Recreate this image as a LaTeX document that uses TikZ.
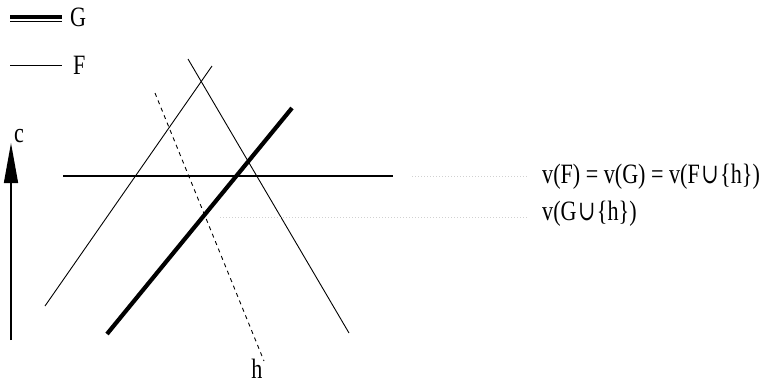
\documentclass[tikz,border=0pt]{standalone}
\usepackage{fontspec}
\setmainfont{Liberation Serif}[FakeStretch=0.79]
\newfontfamily\symfont{DejaVu Serif}[FakeStretch=0.74]
\usetikzlibrary{arrows.meta}
\newcommand{\cupsym}{\hspace{1.5pt}{\symfont ∪}\hspace{1.5pt}}
\begin{document}
\begin{tikzpicture}[x=1pt,y=-1pt,
  thinline/.style={line width=0.9pt,black},
  dotline/.style={line width=0.8pt,black!18,dash pattern=on 1pt off 2pt},
  lbl/.style={inner sep=0pt,font=\fontsize{28}{31}\selectfont}]
\useasboundingbox (0,0) rectangle (764,383);
% legend
\coordinate (g1) at (10,17); \coordinate (g2) at (62,17);
\coordinate (g3) at (10,21.5); \coordinate (g4) at (62,21.5);
\draw[line width=3.4pt] (g1) -- (g2);
\draw[line width=1pt] (g3) -- (g4);
\node[lbl,anchor=base west] (G) at (70,26) {G};
\coordinate (f1) at (10,65); \coordinate (f2) at (62,65);
\draw[thinline] (f1) -- (f2);
\node[lbl,anchor=base west] (F) at (73,74) {F};
% cost arrow
\coordinate (c0) at (11,340); \coordinate (c1) at (11,143);
\draw[line width=1.5pt,-{Triangle[length=40pt,width=14pt]}] (c0) -- (c1);
\node[lbl,anchor=base] (c) at (19,142) {c};
% lines
\coordinate (a1) at (45,306); \coordinate (a2) at (212,66);
\coordinate (b1) at (188,59); \coordinate (b2) at (349,333);
\coordinate (hz1) at (63,176); \coordinate (hz2) at (393,176);
\coordinate (t1) at (107,334); \coordinate (t2) at (292,108);
\coordinate (h1) at (155,93); \coordinate (h2) at (264,361);
\draw[thinline] (a1) -- (a2);
\draw[thinline] (b1) -- (b2);
\draw[line width=1.1pt] (hz1) -- (hz2);
\draw[line width=4.2pt] (t1) -- (t2);
\draw[thinline,dash pattern=on 4pt off 4pt] (h1) -- (h2);
\node[lbl,anchor=base] (h) at (257,378) {h};
% dotted leaders and labels
\node[lbl,anchor=base west] (v1) at (542,183) {v(F) = v(G) = v(F\cupsym\{h\})};
\node[lbl,anchor=base west] (v2) at (542,220) {v(G\cupsym\{h\})};
\coordinate (d1) at (412,176); \coordinate (d2) at (527,176);
\coordinate (e1) at (220,217); \coordinate (e2) at (527,217);
\draw[dotline] (d1) -- (d2);
\draw[dotline] (e1) -- (e2);
\end{tikzpicture}
\end{document}
